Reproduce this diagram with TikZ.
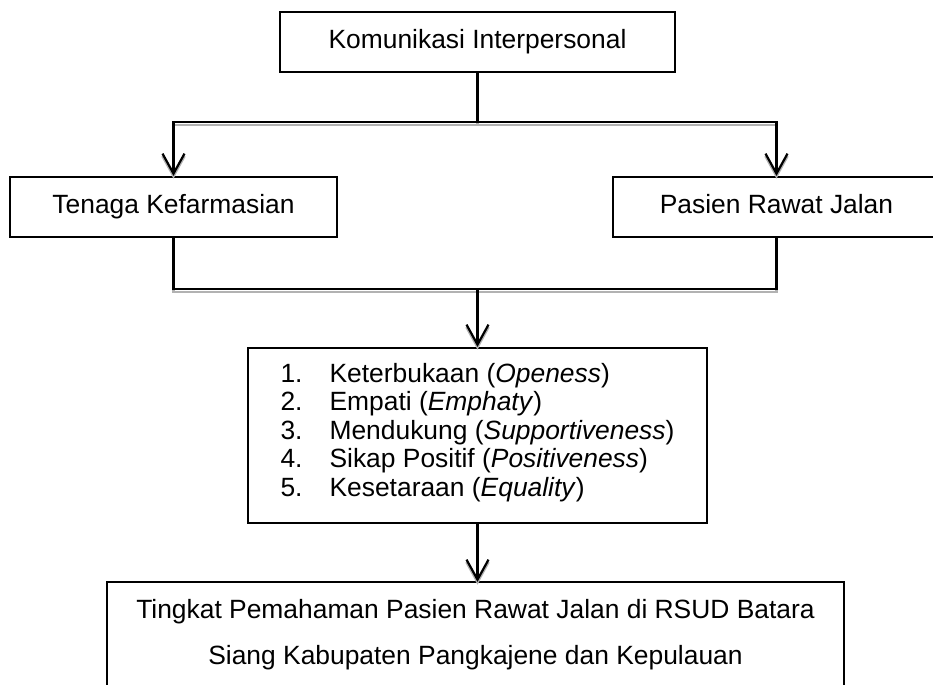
\documentclass[tikz,border=0pt]{standalone}
\usepackage{fontspec}
\setmainfont{Liberation Sans}
\usetikzlibrary{arrows.meta}

\begin{document}
\begin{tikzpicture}[x=0.5pt, y=-0.5pt,
  >={Straight Barb[length=10pt,width=11pt]},
  kotak/.style={draw, line width=1.1pt, inner sep=0pt, font=\fontsize{13.2}{14.2}\selectfont},
  satu/.style={kotak, text height=9.5pt, text depth=2.8pt, minimum height=30pt},
  garis/.style={line width=1.1pt, preaction={draw=black!30, line width=1.3pt, transform canvas={yshift=-1.4pt}}}]
  \path[use as bounding box, clip] (0,0) rectangle (933,685);

  \node[satu, minimum width=197.5pt] (komunikasi) at (477.5,42) {Komunikasi Interpersonal};
  \node[satu, minimum width=163.5pt] (tenaga) at (173.5,207) {Tenaga Kefarmasian};
  \node[satu, minimum width=163.5pt] (pasien) at (776.5,207) {Pasien Rawat Jalan};
  \node[kotak, minimum width=229.5pt, minimum height=87.5pt, align=left] (dimensi) at (477.5,435.5) {%
    \makebox[24.5pt][l]{1.}Keterbukaan (\textit{Openess})\\
    \makebox[24.5pt][l]{2.}Empati (\textit{Emphaty})\\
    \makebox[24.5pt][l]{3.}Mendukung (\textit{Supportiveness})\\
    \makebox[24.5pt][l]{4.}Sikap Positif (\textit{Positiveness})\\
    \makebox[24.5pt][l]{5.}Kesetaraan (\textit{Equality})\vspace{3pt}};
  \node[kotak, draw=none, minimum width=367.5pt, minimum height=52pt, align=center,
    font=\fontsize{13.2}{23}\selectfont] (hasil) at (475.5,635) {%
    Tingkat Pemahaman Pasien Rawat Jalan di RSUD Batara\\
    Siang Kabupaten Pangkajene dan Kepulauan};
  % tepi kotak hasil terpotong di bawah
  \draw[line width=1.1pt] ([yshift=-10pt]hasil.south west) |- (hasil.north east) -- ([yshift=-10pt]hasil.south east);

  \coordinate (jA) at (477.5,122);
  \coordinate (jB) at (477.5,289);

  \draw[garis] (komunikasi) -- (jA);
  \draw[garis,->] (jA) -| (tenaga);
  \draw[garis,->] (jA) -| (pasien);
  \draw[garis] (tenaga) |- (jB);
  \draw[garis] (pasien) |- (jB);
  \draw[garis,->] (jB) -- (dimensi);
  \draw[garis,->] (dimensi) -- (dimensi |- hasil.north);
\end{tikzpicture}
\end{document}
